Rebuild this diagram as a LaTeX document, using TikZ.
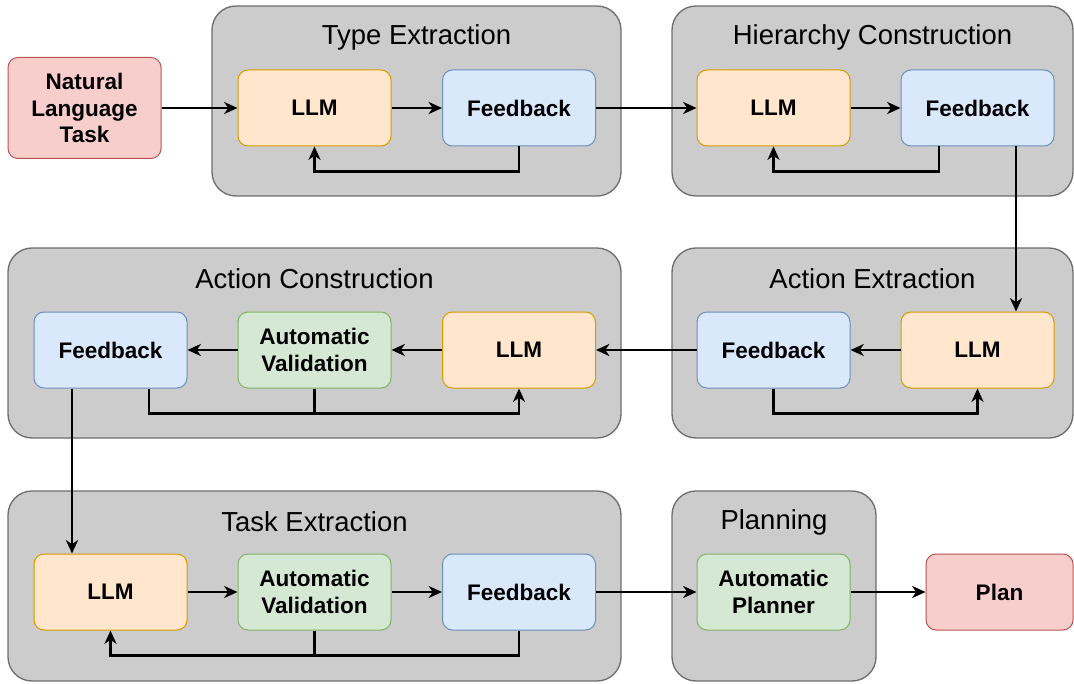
\documentclass[tikz,border=0pt]{standalone}
\usepackage{fontspec}
\setmainfont{Liberation Sans}
\usetikzlibrary{arrows.meta,calc}
\definecolor{llmfill}{HTML}{FFE6CC}
\definecolor{llmdraw}{HTML}{D79B00}
\definecolor{fbfill}{HTML}{DAE8FC}
\definecolor{fbdraw}{HTML}{6C8EBF}
\definecolor{avfill}{HTML}{D5E8D4}
\definecolor{avdraw}{HTML}{82B366}
\definecolor{iofill}{HTML}{F8CECC}
\definecolor{iodraw}{HTML}{B85450}
\definecolor{grpfill}{HTML}{CCCCCC}
\definecolor{grpdraw}{HTML}{6E6E6E}
\begin{document}
\begin{tikzpicture}[x=0.75pt, y=-0.75pt,
box/.style={draw, rounded corners=7.5pt, line width=0.75pt, minimum width=114.75pt,
  minimum height=57pt, align=center, font=\fontsize{16.9}{20}\selectfont\bfseries},
llm/.style={box, draw=llmdraw, fill=llmfill},
fb/.style={box, draw=fbdraw, fill=fbfill},
av/.style={box, draw=avdraw, fill=avfill},
io/.style={box, draw=iodraw, fill=iofill},
grp/.style={draw=grpdraw, fill=grpfill, rounded corners=18pt, line width=1pt},
title/.style={font=\fontsize{20.6}{24}\selectfont},
arr/.style={-{Stealth[length=10pt,width=9pt,inset=3pt]}, line width=2pt},
wire/.style={line width=2pt}]
\useasboundingbox (0,0) rectangle (1074,684);

\draw[grp] (212,6) rectangle (621,196);
\draw[grp] (672,6) rectangle (1073,196);
\draw[grp] (8,248) rectangle (621,438);
\draw[grp] (672,248) rectangle (1073,438);
\draw[grp] (8,491) rectangle (621,681);
\draw[grp] (672,491) rectangle (876,681);

\node[title] (t1) at (416.5,37) {Type Extraction};
\node[title] (t2) at (872.5,37) {Hierarchy Construction};
\node[title] (t3) at (314.5,279) {Action Construction};
\node[title] (t4) at (872.5,279) {Action Extraction};
\node[title] (t5) at (314.5,522) {Task Extraction};
\node[title] (t6) at (774,522) {Planning};

\node[io, minimum height=75.75pt] (nlt) at (84.5,108) {Natural\\Language\\Task};
\node[llm] (llm1) at (314.5,108) {LLM};
\node[fb] (fb1) at (519,108) {Feedback};
\node[llm] (llm2) at (773.5,108) {LLM};
\node[fb] (fb2) at (977.5,108) {Feedback};

\node[fb] (fb3) at (110.5,350) {Feedback};
\node[av] (av3) at (314.5,350) {Automatic\\Validation};
\node[llm] (llm3) at (519,350) {LLM};
\node[fb] (fb4) at (773.5,350) {Feedback};
\node[llm] (llm4) at (977.5,350) {LLM};

\node[llm] (llm5) at (110.5,592) {LLM};
\node[av] (av5) at (314.5,592) {Automatic\\Validation};
\node[fb] (fb5) at (519,592) {Feedback};
\node[av] (ap) at (773.5,592) {Automatic\\Planner};
\node[io, minimum width=110.25pt] (plan) at (999.5,592) {Plan};

\draw[arr] (nlt) -- (llm1);
\draw[arr] (llm1) -- (fb1);
\draw[arr] (fb1) -- (llm2);
\draw[arr] (llm2) -- (fb2);
\draw[arr] (fb1.south) -- ++(0,25) -| (llm1.south);
\draw[arr] ($(fb2.south west)!.25!(fb2.south east)$) -- ++(0,25) -| (llm2.south);
\draw[arr] ($(fb2.south west)!.75!(fb2.south east)$) -- ($(llm4.north west)!.75!(llm4.north east)$);

\draw[arr] (llm4) -- (fb4);
\draw[arr] (fb4.south) -- ++(0,25) -| (llm4.south);
\draw[arr] (fb4) -- (llm3);
\draw[arr] (llm3) -- (av3);
\draw[arr] (av3) -- (fb3);
\draw[arr] ($(fb3.south west)!.75!(fb3.south east)$) -- ++(0,25) -| (llm3.south);
\draw[wire] (av3.south) -- ++(0,25);
\draw[arr] ($(fb3.south west)!.25!(fb3.south east)$) -- ($(llm5.north west)!.25!(llm5.north east)$);

\draw[arr] (llm5) -- (av5);
\draw[arr] (av5) -- (fb5);
\draw[arr] (fb5.south) -- ++(0,25) -| (llm5.south);
\draw[wire] (av5.south) -- ++(0,25);
\draw[arr] (fb5) -- (ap);
\draw[arr] (ap) -- (plan);

\end{tikzpicture}
\end{document}
